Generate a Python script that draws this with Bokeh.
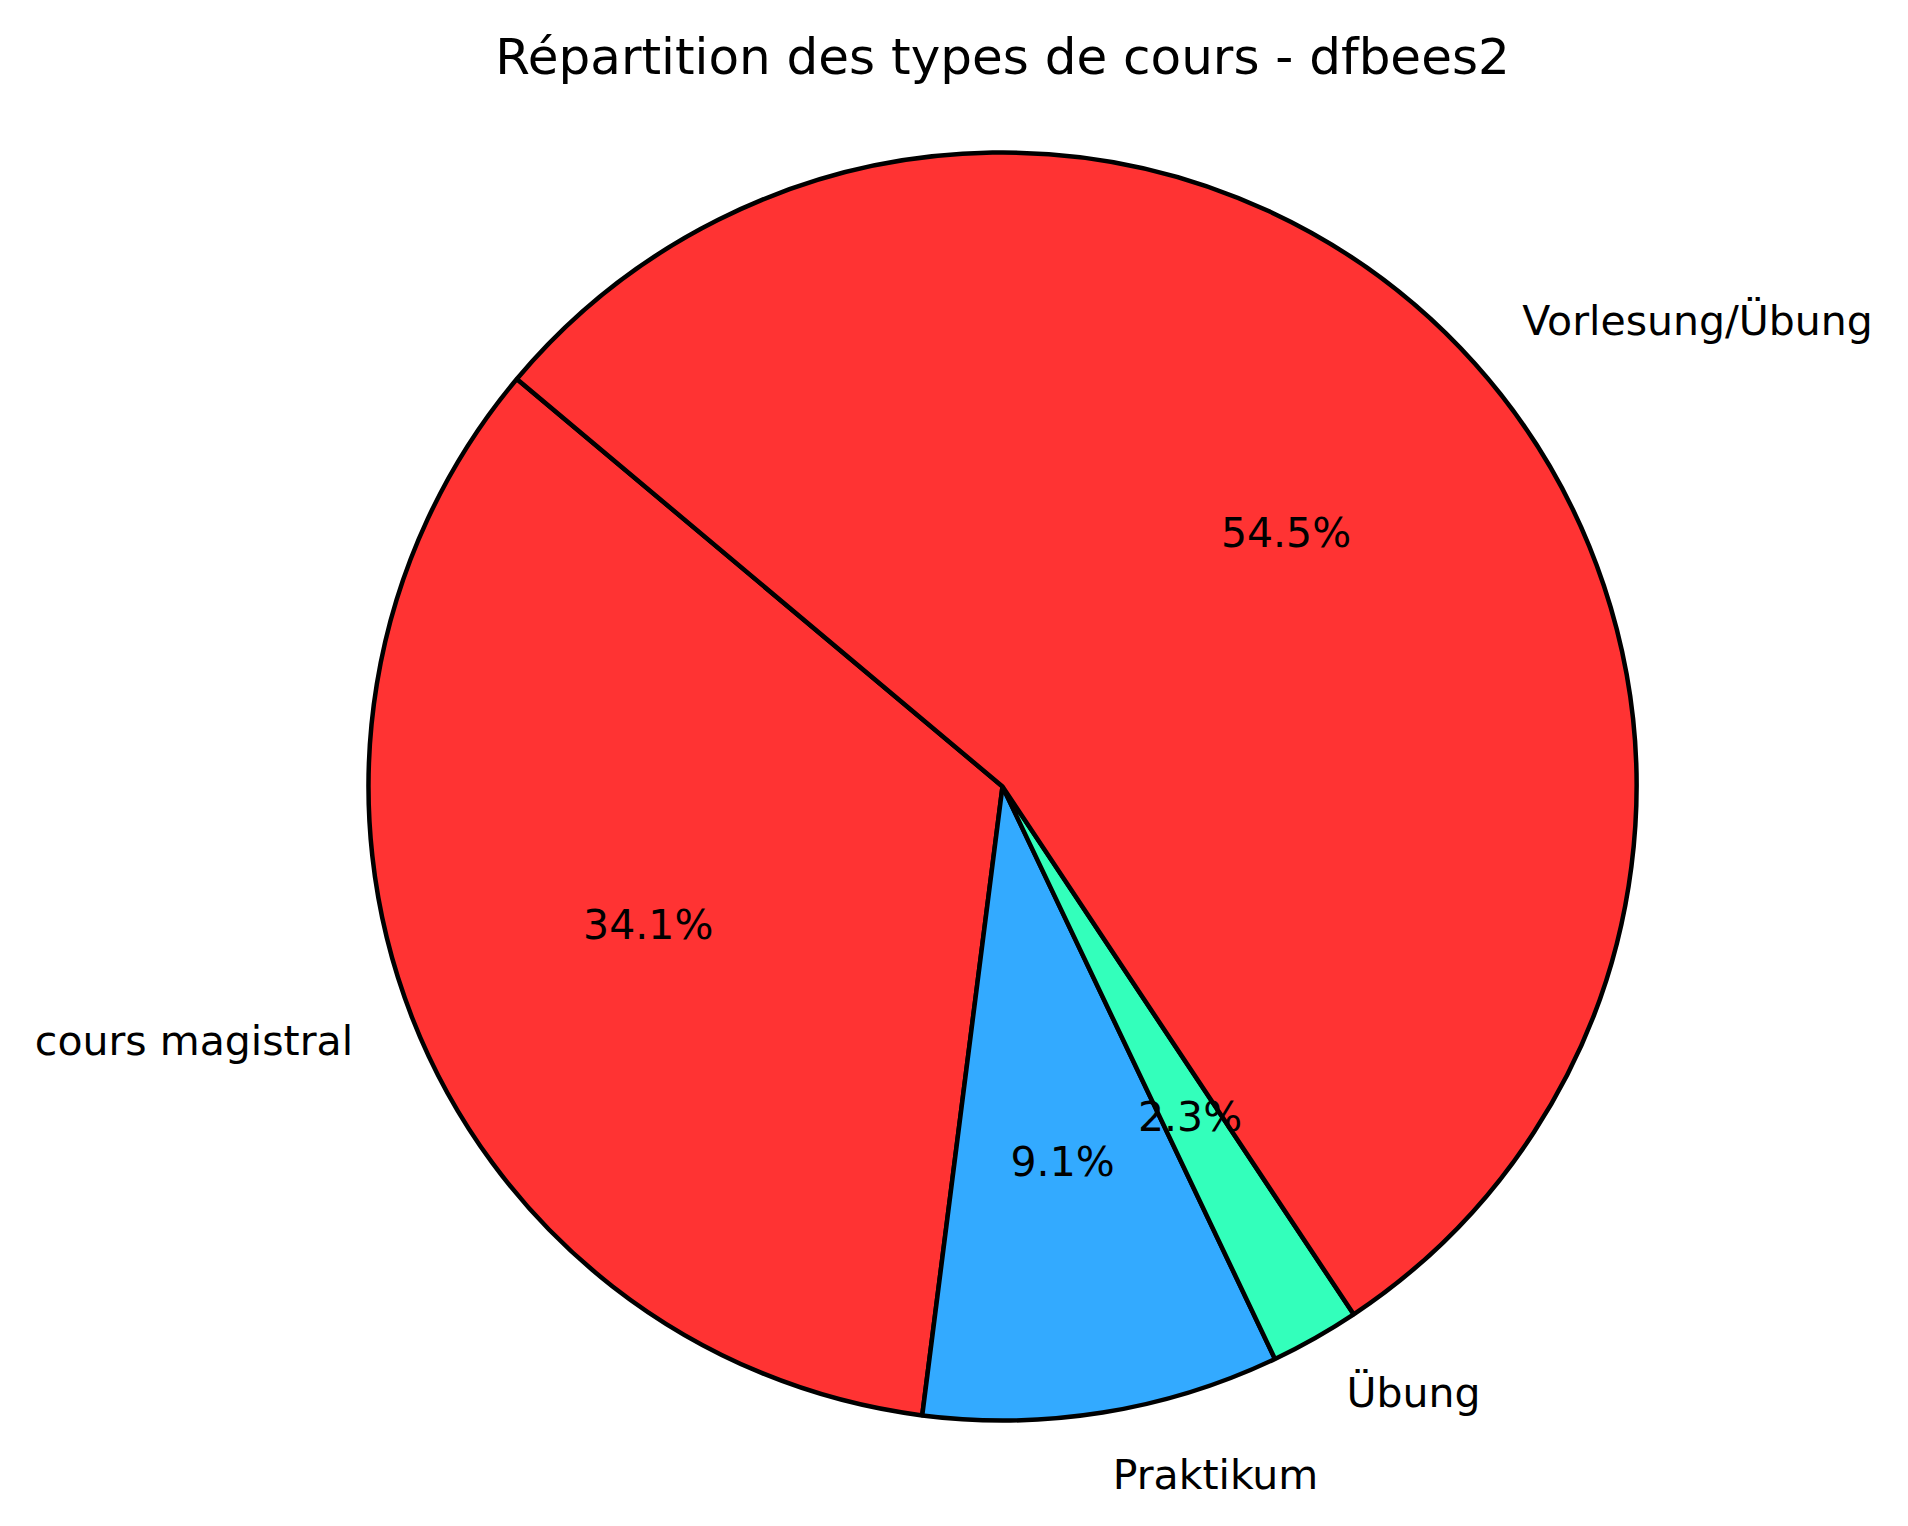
import numpy as np
from bokeh.plotting import figure
from bokeh.models import Range1d, ColumnDataSource
from bokeh.embed import file_html
from bokeh.resources import INLINE
from bokeh.core.properties import value

# ---- data ----
categories = ["cours magistral", "Praktikum", "Übung", "Vorlesung/Übung"]
counts = [15, 4, 1, 24]
colors = ["#FF3333", "#33AAFF", "#33FFBB", "#FF3333"]
title_text = "Répartition des types de cours - dfbees2"
start_deg = 140.0

# ---- layout ----
W, H = 1892, 1510
cx, cy, R = 1002, 786, 634  # pie centre and radius in pixels

p = figure(width=W, height=H, output_backend="svg", toolbar_location=None,
           min_border=0, x_axis_location=None, y_axis_location=None,
           x_range=Range1d(-cx / R, (W - cx) / R),
           y_range=Range1d(-(H - cy) / R, cy / R))
p.grid.visible = False
p.outline_line_color = None
p.background_fill_color = "white"
p.border_fill_color = "white"

vals = np.array(counts, dtype=float)
frac = vals / vals.sum()
edges = np.deg2rad(start_deg) + np.concatenate([[0], np.cumsum(frac)]) * 2 * np.pi
starts, ends = edges[:-1], edges[1:]
mids = (starts + ends) / 2

src = ColumnDataSource(dict(start=starts, end=ends, color=colors))
p.wedge(x=0, y=0, radius=1, start_angle="start", end_angle="end",
        direction="anticlock", fill_color="color", line_color="black",
        line_width=4.5, source=src)

font = value("DejaVu Sans")

# category labels
lx = 1.1 * np.cos(mids)
ly = 1.1 * np.sin(mids)
align = ["left" if x > 0 else "right" for x in lx]
lab = ColumnDataSource(dict(x=lx, y=ly, t=categories, a=align))
p.text(x="x", y="y", text="t", text_align="a", text_baseline="middle",
       text_font=font, text_font_size="41px", text_color="black", source=lab)

# percentages
px = 0.6 * np.cos(mids)
py = 0.6 * np.sin(mids)
pct = [f"{f * 100:.1f}%" for f in frac]
ps = ColumnDataSource(dict(x=px, y=py, t=pct))
p.text(x="x", y="y", text="t", text_align="center", text_baseline="middle",
       text_font=font, text_font_size="41px", text_color="black", source=ps)

# title
p.text(x=[0], y=[(cy - 56) / R], text=[title_text], text_align="center",
       text_baseline="alphabetic", text_font=font, text_font_size="50px",
       text_color="black")

open("out.html", "w").write(file_html(p, INLINE))
